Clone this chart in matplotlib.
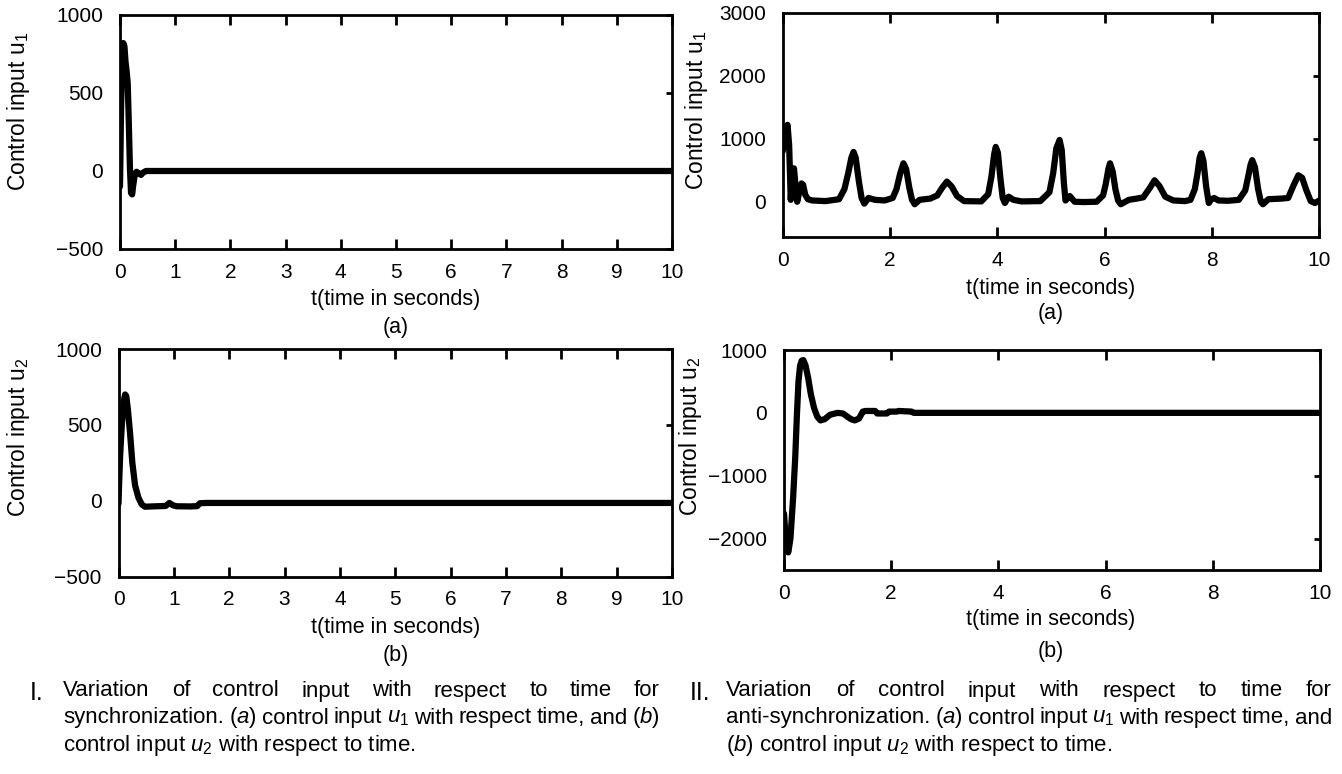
import matplotlib
matplotlib.use('Agg')
import matplotlib.pyplot as plt

# fonts: narrow sans if there is one, else plain Liberation Sans
plt.rcParams['font.family'] = ['Liberation Sans Narrow', 'Liberation Sans', 'DejaVu Sans']
plt.rcParams['mathtext.fontset'] = 'custom'
plt.rcParams['mathtext.rm'] = 'Liberation Sans'
plt.rcParams['mathtext.it'] = 'Liberation Sans:italic'

W, H = 1342, 774

# ---- data ----
# I (a) synchronization, control input u1
sync_t1 = [0, 0.01, 0.02, 0.04, 0.06, 0.08, 0.10, 0.12, 0.14, 0.16, 0.18,
           0.20, 0.22, 0.24, 0.27, 0.30, 0.34, 0.38, 0.42, 0.47, 10]
sync_u1 = [-100, 150, 420, 700, 820, 800, 700, 640, 560, 300, 20,
           -140, -150, -90, -20, -5, -15, -25, -10, 0, 0]

# I (b) synchronization, control input u2
sync_t2 = [0, 0.01, 0.03, 0.06, 0.09, 0.12, 0.14, 0.17, 0.21, 0.25, 0.30, 0.36,
           0.42, 0.48, 0.6, 0.85, 0.92, 0.98, 1.05, 1.3, 1.42, 1.47, 1.6, 10]
sync_u2 = [-20, 100, 300, 500, 650, 700, 690, 600, 440, 250, 100, 20,
           -25, -40, -38, -35, -15, -30, -37, -38, -36, -17, -15, -15]

# II (a) anti-synchronization, control input u1
anti_t1 = [0, 0.03, 0.06, 0.09, 0.12, 0.15, 0.18, 0.21, 0.24, 0.27, 0.31, 0.35, 0.38, 0.42, 0.47, 0.55,
           0.8, 1.05, 1.15, 1.22, 1.28, 1.32, 1.36, 1.42, 1.47, 1.52, 1.6, 1.72,
           1.9, 2.05, 2.12, 2.19, 2.25, 2.3, 2.36, 2.41, 2.46, 2.55,
           2.75, 2.88, 2.97, 3.06, 3.15, 3.25, 3.38,
           3.7, 3.83, 3.89, 3.94, 3.97, 4.01, 4.06, 4.1, 4.14, 4.21, 4.3, 4.45,
           4.8, 4.97, 5.04, 5.1, 5.16, 5.2, 5.24, 5.27, 5.35, 5.44, 5.6,
           5.85, 5.97, 6.02, 6.07, 6.1, 6.15, 6.2, 6.25, 6.3, 6.45, 6.6,
           6.72, 6.85, 6.93, 7.02, 7.13, 7.28, 7.5,
           7.6, 7.68, 7.73, 7.77, 7.8, 7.84, 7.89, 7.94, 7.98, 8.04, 8.12, 8.3,
           8.5, 8.62, 8.67, 8.72, 8.75, 8.8, 8.86, 8.91, 8.95, 9.05, 9.3,
           9.42, 9.52, 9.61, 9.68, 9.76, 9.84, 9.92, 10]
anti_u1 = [800, 1000, 1150, 1220, 900, 30, 450, 530, 250, 0, 160, 290, 270, 110, 40, 20,
           10, 40, 200, 450, 700, 790, 700, 320, 60, -30, 60, 30,
           20, 60, 200, 450, 610, 520, 220, 30, -40, 30,
           50, 100, 220, 320, 240, 90, 10,
           5, 120, 400, 750, 870, 780, 350, 60, -20, 80, 30, 5,
           10, 150, 450, 850, 980, 820, 300, 20, 90, 0, -5,
           0, 100, 280, 520, 610, 480, 200, 20, -40, 30, 50,
           70, 230, 340, 250, 80, 20, 10,
           30, 200, 450, 700, 770, 650, 250, -20, 30, 60, 20, 15,
           30, 180, 380, 590, 660, 550, 200, 0, -40, 40, 50,
           60, 260, 420, 380, 180, 10, -20, 20]

# II (b) anti-synchronization, control input u2
anti_t2 = [0, 0.04, 0.08, 0.12, 0.17, 0.21, 0.24, 0.27, 0.3, 0.33, 0.36, 0.4,
           0.45, 0.5, 0.56, 0.62, 0.68, 0.76, 0.86, 1.0, 1.1, 1.18, 1.25, 1.32,
           1.4, 1.47, 1.52, 1.7, 1.74, 1.92, 1.96, 2.1, 2.14, 2.38, 2.42, 10]
anti_u2 = [-1600, -2100, -2220, -2000, -1350, -700, -50, 500, 750, 830, 840, 760,
           560, 300, 80, -60, -120, -100, -30, 0, -10, -60, -100, -120,
           -90, 20, 30, 30, -10, -10, 20, 20, 30, 20, 0, 0]

xticks_left = list(range(0, 11))
xticks_right = [0, 2, 4, 6, 8, 10]
yticks_sync = [-500, 0, 500, 1000]
yticks_anti1 = [0, 1000, 2000, 3000]
yticks_anti2 = [-2000, -1000, 0, 1000]


fig = plt.figure(figsize=(W / 100, H / 100), dpi=100)


def px(x, y):
    # pixel position (from top left) -> figure fraction
    return x / W, 1 - y / H


def panel(left, top, right, bottom, t, u, ylim, xticks, yticks):
    x0, y1 = px(left, top)
    x1, y0 = px(right, bottom)
    ax = fig.add_axes([x0, y0, x1 - x0, y1 - y0])
    ax.plot(t, u, color='black', lw=4.5, solid_capstyle='round', solid_joinstyle='round')
    ax.set_xlim(0, 10)
    ax.set_ylim(*ylim)
    ax.set_xticks(xticks)
    ax.set_yticks(yticks)
    ax.tick_params(axis='x', direction='in', top=True, bottom=True, length=7, width=2,
                   labelsize=15, pad=10)
    ax.tick_params(axis='y', direction='in', left=False, right=True, length=4, width=2,
                   labelsize=15, pad=12)
    for s in ax.spines.values():
        s.set_linewidth(2)
    return ax


panel(120, 15, 672, 249, sync_t1, sync_u1, (-500, 1000), xticks_left, yticks_sync)
panel(118.5, 349, 672, 576.5, sync_t2, sync_u2, (-500, 1000), xticks_left, yticks_sync)
panel(782.7, 12.7, 1319.3, 236.7, anti_t1, anti_u1, (-555, 3000), xticks_right, yticks_anti1)
panel(784, 350, 1320, 570, anti_t2, anti_u2, (-2500, 1000), xticks_right, yticks_anti2)

# axis labels and panel letters
lab = dict(fontsize=15.5, ha='center', va='center')
fig.text(*px(396, 300), 't(time in seconds)', **lab)
fig.text(*px(396, 327), '(a)', **lab)
fig.text(*px(396, 627), 't(time in seconds)', **lab)
fig.text(*px(396, 656), '(b)', **lab)
fig.text(*px(1051, 289), 't(time in seconds)', **lab)
fig.text(*px(1051, 314), '(a)', **lab)
fig.text(*px(1051, 620), 't(time in seconds)', **lab)
fig.text(*px(1051, 651), '(b)', **lab)

ylab = dict(fontsize=16.5, ha='center', va='center', rotation=90, family=['Liberation Sans', 'DejaVu Sans'])
fig.text(*px(19, 111), 'Control input u$_1$', **ylab)
fig.text(*px(19, 437), 'Control input u$_2$', **ylab)
fig.text(*px(697, 110), 'Control input u$_1$', **ylab)
fig.text(*px(690, 436), 'Control input u$_2$', **ylab)

# captions (first lines justified like in the paper)
CAP = 16
renderer = fig.canvas.get_renderer()


def put_line(words, x0, x1, y, justify=True):
    objs = [fig.text(*px(x0, y), w, fontsize=CAP, ha='left', va='center') for w in words]
    widths = [o.get_window_extent(renderer).width for o in objs]
    gap = (x1 - x0 - sum(widths)) / (len(words) - 1) if justify else 5
    x = x0
    for o, w in zip(objs, widths):
        o.set_position(px(x, y))
        x += w + gap


line1 = 'Variation of control input with respect to time for'.split()

fig.text(*px(30, 693), 'I.', fontsize=18, ha='left', va='center')
put_line(line1, 63, 660, 691)
put_line(['synchronization.', '($a$)', 'control', 'input', '$u_1$', 'with', 'respect',
          'time,', 'and', '($b$)'], 63, 660, 718)
fig.text(*px(63, 745), 'control input $u_2$ with respect to time.', fontsize=CAP, ha='left', va='center')

fig.text(*px(690, 693), 'II.', fontsize=18, ha='left', va='center')
put_line(line1, 726, 1332, 691)
put_line(['anti-synchronization.', '($a$)', 'control', 'input', '$u_1$', 'with', 'respect',
          'time,', 'and'], 726, 1332, 718)
fig.text(*px(726, 745), '($b$) control input $u_2$ with respect to time.', fontsize=CAP, ha='left', va='center')

fig.savefig('out.png', dpi=100)
